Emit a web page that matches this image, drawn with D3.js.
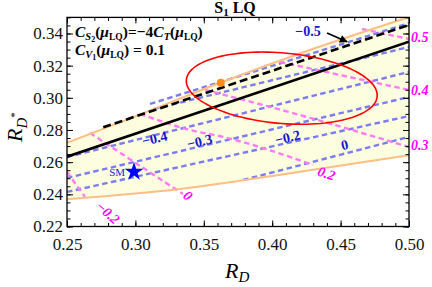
<!DOCTYPE html>
<html><head><meta charset="utf-8">
<script src="https://cdn.jsdelivr.net/npm/d3@7"></script>
<style>body{margin:0;background:#fff}text{font-family:"Liberation Serif","DejaVu Serif",serif}</style>
</head><body><svg id="c" width="432" height="287"></svg>
<script>
// ---- data ----
const xTicks=[0.25,0.30,0.35,0.40,0.45,0.50];
const yTicks=[0.22,0.24,0.26,0.28,0.30,0.32,0.34];
const upperBound=[[0.25,0.272],[0.30,0.2885],[0.362,0.3094],[0.43,0.3305],[0.50,0.3502]];
const lowerBound=[[0.25,0.2369],[0.3326,0.2433],[0.4203,0.2541],[0.50,0.2643]];
const blackSolid=[[0.25,0.2634],[0.50,0.3349]];
const blackDashed=[[0.2765,0.2817],[0.50,0.3453]];
const blueLevels=["−0.5","−0.4","−0.3","−0.2","0"];
const blueLines=[
 [[0.3107,0.2962],[0.50,0.3464]],
 [[0.3136,0.2931],[0.50,0.3316]],
 [[0.25,0.2632],[0.50,0.3161]],
 [[0.25,0.2502],[0.50,0.3005]],
 [[0.25,0.2415],[0.50,0.2887]],
 [[0.3787,0.2489],[0.50,0.2757]]
];
const blueLabelPos=[[0.4262,0.3403],[0.3143,0.2738],[0.3472,0.2719],[0.4115,0.2744],[0.4532,0.2699]];
const pinkLevels=["0.5","0.4","0.3","0.2","0","−0.2"];
const pinkLines=[
 [[0.4656,0.3428],[0.50,0.3366]],
 [[0.4057,0.3223],[0.50,0.3049]],
 [[0.3509,0.3049],[0.4203,0.2893],[0.50,0.2694]],
 [[0.3034,0.2900],[0.3399,0.2800],[0.3640,0.2757],[0.4298,0.2583]],
 [[0.2668,0.2781],[0.3348,0.2402]],
 [[0.25,0.2539],[0.2632,0.2383]]
];
const pinkLabelPos=[[0.5015,0.3370],[0.5015,0.3035],[0.5015,0.2695],[0.4393,0.2520],[0.3377,0.2385],[0.2793,0.2278]];
const pinkLabelRot=[0,0,0,18,40,42];
const arrowPts=[[0.4401,0.3403],[0.4547,0.3349]];
const exp={rd:0.407,rds:0.306,srd:0.046,srds:0.0148,rho:-0.2,dchi2:2.30};
const bestFit=[0.3624,0.3094];
const sm=[0.299,0.254];

// ---- scales ----
const svg=d3.select("#c");
const x=d3.scaleLinear().domain([0.25,0.5]).range([67,409]);
const y=d3.scaleLinear().domain([0.22,0.35]).range([226.5,17.4]);
const line=d3.line().x(d=>x(d[0])).y(d=>y(d[1]));
const smooth=d3.line().x(d=>x(d[0])).y(d=>y(d[1])).curve(d3.curveMonotoneX);

svg.append("clipPath").attr("id","cp").append("rect")
  .attr("x",x(0.25)).attr("y",y(0.35)).attr("width",x(0.5)-x(0.25)).attr("height",y(0.22)-y(0.35));
const g=svg.append("g").attr("clip-path","url(#cp)");

// fill region
const poly=upperBound.concat(lowerBound.slice().reverse());
g.append("path").attr("d",line(poly)+"Z").attr("fill","#fdfde0").attr("stroke","none");

// blue contours
blueLines.forEach(l=>g.append("path").attr("d",line(l)).attr("fill","none")
  .attr("stroke","#7b7bf2").attr("stroke-width",2.4).attr("stroke-dasharray","5.5,3.5"));
// pink contours
pinkLines.forEach(l=>g.append("path").attr("d",smooth(l)).attr("fill","none")
  .attr("stroke","#ff7cf4").attr("stroke-width",2.4).attr("stroke-dasharray","5.5,3.5"));
// orange boundaries
[upperBound,lowerBound].forEach(l=>g.append("path").attr("d",smooth(l)).attr("fill","none")
  .attr("stroke","#fbbf85").attr("stroke-width",2));
// black lines
g.append("path").attr("d",line(blackSolid)).attr("fill","none").attr("stroke","#000").attr("stroke-width",2.6);
g.append("path").attr("d",line(blackDashed)).attr("fill","none").attr("stroke","#000").attr("stroke-width",2.6).attr("stroke-dasharray","8,4");

// experimental ellipse
const k=Math.sqrt(exp.dchi2);
const ell=d3.range(0,361,3).map(a=>{const t=a*Math.PI/180,u=Math.cos(t),v=Math.sin(t);
  return [exp.rd+k*exp.srd*u, exp.rds+k*exp.srds*(exp.rho*u+Math.sqrt(1-exp.rho*exp.rho)*v)];});
g.append("path").attr("d",line(ell)+"Z").attr("fill","none").attr("stroke","#f00").attr("stroke-width",1.6);

// points
g.append("circle").attr("cx",x(bestFit[0])).attr("cy",y(bestFit[1])).attr("r",4).attr("fill","#ff8c1a");
g.append("path").attr("d",d3.symbol(d3.symbolStar,110)()).attr("transform",`translate(${x(sm[0])},${y(sm[1])})`).attr("fill","#0000ff");
svg.append("text").attr("x",x(sm[0])-9).attr("y",y(sm[1])+4).attr("text-anchor","end").attr("font-size",11).attr("fill","#2222cc").text("SM");

// blue labels
blueLevels.forEach((t,i)=>{
  const p=blueLabelPos[i];
  svg.append("text").attr("x",x(p[0])).attr("y",y(p[1])).attr("text-anchor","middle").attr("dominant-baseline","middle")
   .attr("transform",i===0?null:`rotate(-13,${x(p[0])},${y(p[1])})`)
   .attr("font-size",14).attr("font-weight","bold").attr("fill","#1515d0").text(t);
});
// arrow
svg.append("defs").append("marker").attr("id","ah").attr("viewBox","0 0 10 10").attr("refX",9).attr("refY",5)
 .attr("markerWidth",5).attr("markerHeight",5).attr("orient","auto").append("path").attr("d","M0,0L10,5L0,10Z").attr("fill","#000");
svg.append("path").attr("d",line(arrowPts)).attr("stroke","#000").attr("stroke-width",1.6).attr("marker-end","url(#ah)");

// pink labels
pinkLevels.forEach((t,i)=>{
  const p=pinkLabelPos[i];
  svg.append("text").attr("x",x(p[0])).attr("y",y(p[1])).attr("text-anchor",i<3?"start":"middle").attr("dominant-baseline","middle")
   .attr("transform",`rotate(${pinkLabelRot[i]},${x(p[0])},${y(p[1])})`)
   .attr("font-size",14).attr("font-weight","bold").attr("font-style","italic").attr("fill","#ff00ff").text(t);
});

// axes (ticks inward on all sides)
const xMinor=d3.range(0.25,0.5001,0.01), yMinor=d3.range(0.22,0.3501,0.005);
function fr(axis,tr,ticks,size,labels){
  const a=svg.append("g").attr("transform",tr).call(axis.tickValues(ticks).tickSize(size).tickSizeOuter(0).tickFormat(labels?d3.format(".2f"):""));
  a.select(".domain").remove(); a.selectAll("line").attr("stroke","#000").attr("stroke-width",1);
  a.selectAll("text").attr("font-size",17).attr("fill","#111");
  return a;
}
fr(d3.axisBottom(x),`translate(0,${y(0.22)})`,xTicks,-6,true).selectAll("text").attr("y",11);
fr(d3.axisBottom(x),`translate(0,${y(0.22)})`,xMinor,-3.5,false);
fr(d3.axisTop(x),`translate(0,${y(0.35)})`,xTicks,-6,false);
fr(d3.axisTop(x),`translate(0,${y(0.35)})`,xMinor,-3.5,false);
fr(d3.axisLeft(y),`translate(${x(0.25)},0)`,yTicks,-6,true).selectAll("text").attr("x",-4);
fr(d3.axisLeft(y),`translate(${x(0.25)},0)`,yMinor,-3.5,false);
fr(d3.axisRight(y),`translate(${x(0.5)},0)`,yTicks,-6,false);
fr(d3.axisRight(y),`translate(${x(0.5)},0)`,yMinor,-3.5,false);
svg.append("rect").attr("x",x(0.25)).attr("y",y(0.35)).attr("width",x(0.5)-x(0.25)).attr("height",y(0.22)-y(0.35))
 .attr("fill","none").attr("stroke","#000").attr("stroke-width",1.3);

// titles
const tt=svg.append("text").attr("x",235).attr("y",13).attr("text-anchor","middle").attr("font-size",16).attr("font-weight","bold");
tt.append("tspan").text("S"); tt.append("tspan").attr("font-size",11).attr("dy",3).text("1");
tt.append("tspan").attr("dy",-3).text(" LQ");
const xl=svg.append("text").attr("x",225).attr("y",278).attr("font-size",22).attr("font-style","italic");
xl.append("tspan").text("R"); xl.append("tspan").attr("font-size",15).attr("dy",4).text("D");
const yl=svg.append("text").attr("transform","translate(22,142) rotate(-90)").attr("font-size",22).attr("font-style","italic");
yl.append("tspan").text("R"); yl.append("tspan").attr("font-size",15).attr("dy",5).text("D");
yl.append("tspan").attr("font-size",11).attr("dy",-9).attr("font-style","normal").text("*");

// annotations
function ann(yy,parts){
  const t=svg.append("text").attr("x",75).attr("y",yy).attr("font-size",15.5).attr("font-weight","bold");
  parts.forEach(p=>{const s=t.append("tspan").text(p[0]);
    if(p[1])s.attr("font-size",p[1]); if(p[2])s.attr("dy",p[2]); if(p[3])s.attr("font-style","italic");});
}
ann(37,[["C",0,0,1],["S",10.5,3,1],["2",8,2],["(",0,-5],["μ",0,0,1],["LQ",9.5,3],[")",0,-3],["=−4",0],["C",0,0,1],["T",10.5,3,1],["(",0,-3],["μ",0,0,1],["LQ",9.5,3],[")",0,-3]]);
ann(55,[["C",0,0,1],["V",10.5,3,1],["1",8,2],["(",0,-5],["μ",0,0,1],["LQ",9.5,3],[")",0,-3],[" = 0.1",0]]);
</script></body></html>
